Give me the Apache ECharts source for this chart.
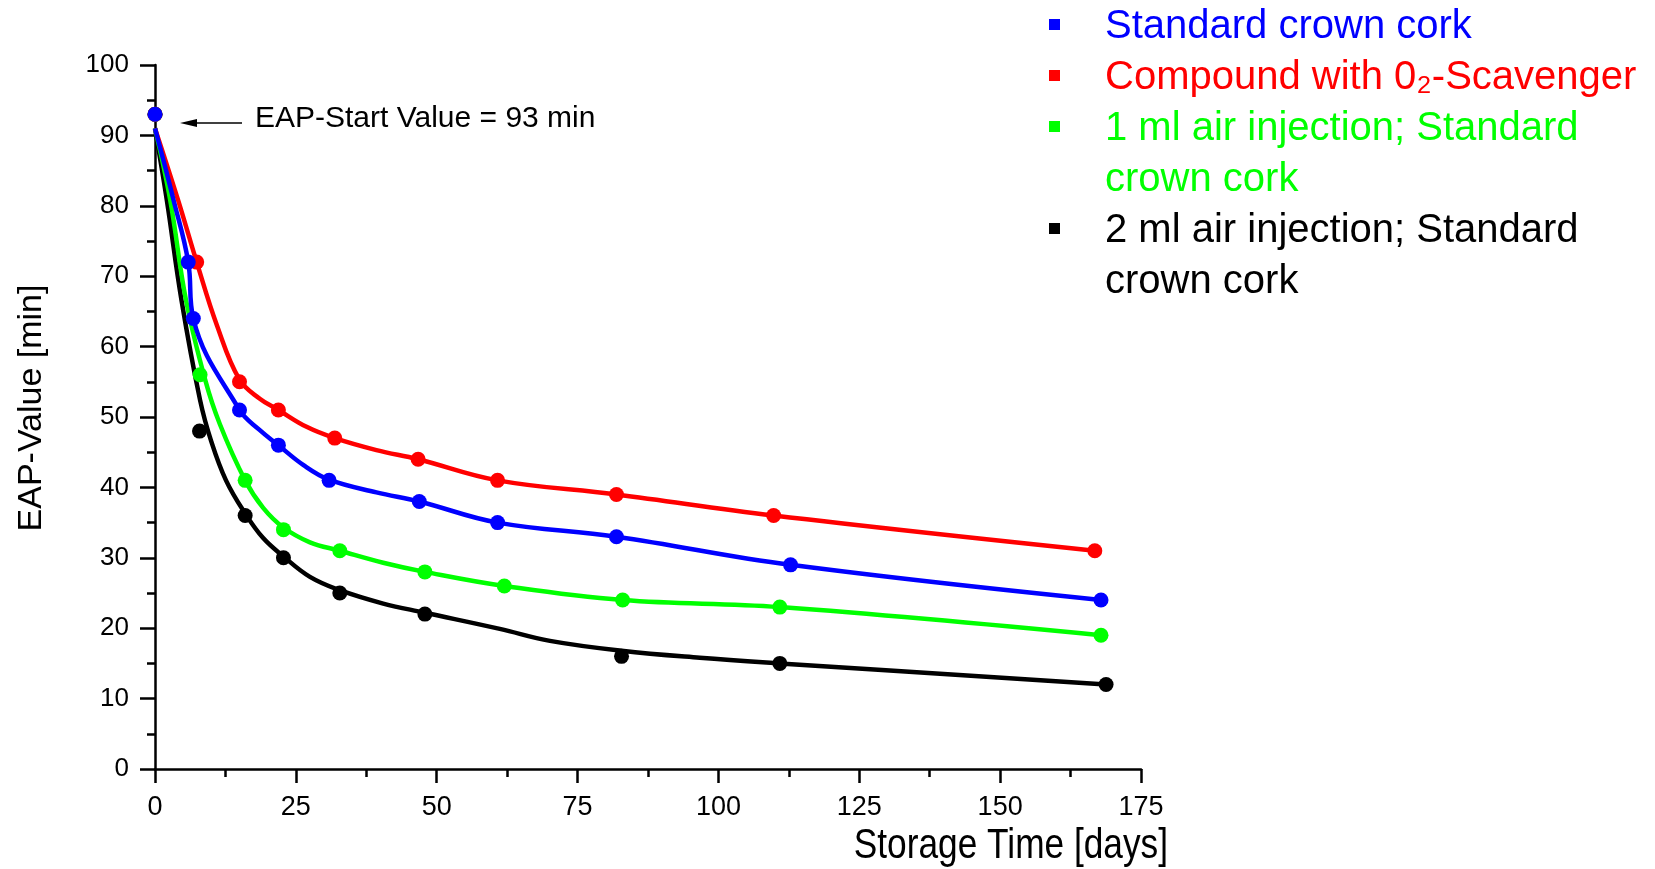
<!DOCTYPE html>
<html>
<head>
<meta charset="utf-8">
<script src="https://cdn.jsdelivr.net/npm/echarts@6/dist/echarts.min.js"></script>
<style>
  html, body { margin: 0; padding: 0; background: #ffffff; }
  #chart { width: 1655px; height: 869px; }
</style>
</head>
<body>
<div id="chart"></div>
<script>
// Axis ticks
const xTickValues = [0, 25, 50, 75, 100, 125, 150, 175];
const yTickValues = [0, 10, 20, 30, 40, 50, 60, 70, 80, 90, 100];

// EAP start value (min), shared by all four closures at day 0
const startValue = 93;

// Series labels and colours
const seriesNames = [
  'Standard crown cork',
  'Compound with 0\u2082-Scavenger',
  '1 ml air injection; Standard\ncrown cork',
  '2 ml air injection; Standard\ncrown cork'
];
const seriesColors = ['#0000ff', '#ff0000', '#00ff00', '#000000'];

// Measured EAP values: [storage time in days, EAP value in min]
const standardPoints = [[0, startValue], [5.9, 72], [6.8, 64], [15, 51], [21.9, 46], [30.9, 41], [46.9, 38], [60.8, 35], [81.9, 33], [112.8, 29], [167.9, 24]];
const scavengerPoints = [[0, startValue], [7.4, 72], [15, 55], [21.9, 51], [31.9, 47], [46.7, 44], [60.8, 41], [81.9, 39], [109.8, 36], [166.8, 31]];
const air1Points = [[0, startValue], [8, 56], [16, 41], [22.8, 34], [32.8, 31], [47.9, 28], [62, 26], [83, 24], [110.9, 23], [167.9, 19]];
const air2Points = [[0, startValue], [7.9, 48], [16, 36], [22.8, 30], [32.8, 25], [47.9, 22], [82.8, 16], [110.9, 15], [168.8, 12]];

// Fitted decay curves: [storage time in days, EAP value in min]
const standardCurve = [[0, 91], [3.3, 80.8], [5.9, 72], [6.8, 64], [15, 51], [18.5, 48.2], [21.9, 46], [26.3, 43.2], [30.9, 41.1], [39.3, 39.3], [46.9, 38], [60.8, 35], [81.9, 33], [112.8, 29], [167.9, 24]];
const scavengerCurve = [[0, 91], [4.1, 80.8], [7.4, 72], [11, 63], [15, 55.3], [18.6, 52.6], [21.9, 51], [26.9, 48.6], [31.9, 47], [39.3, 45.3], [46.7, 44], [60.8, 41], [81.9, 39], [109.8, 36], [166.8, 31]];
const air1Curve = [[0, 91], [2.7, 80.8], [5.5, 66.6], [8.9, 55.3], [11.5, 49], [16, 41], [19.2, 37.1], [22.8, 34.3], [27.5, 32.2], [32.8, 31], [40.5, 29.3], [47.9, 28], [62, 26], [83, 24], [110.9, 23], [167.9, 19]];
const air2Curve = [[0, 91], [2.1, 80.8], [4.7, 66.6], [8, 52.4], [10, 46.5], [12.6, 41], [16, 36.3], [19.2, 32.8], [22.8, 30.2], [27.5, 27.3], [32.8, 25.4], [40.5, 23.5], [47.9, 22.2], [61.2, 19.9], [70.1, 18.2], [82.8, 16.8], [96.7, 15.8], [110.9, 15], [168.8, 12]];

const pointSets = [standardPoints, scavengerPoints, air1Points, air2Points];
const curveSets = [standardCurve, scavengerCurve, air1Curve, air2Curve];

const FONT = "'Liberation Sans', Arial, Helvetica, sans-serif";

const chart = echarts.init(document.getElementById('chart'), null, { renderer: 'canvas' });

// Draw order: black, green, red, blue (blue on top)
const drawOrder = [3, 2, 1, 0];
const series = [];
drawOrder.forEach(function (i) {
  series.push({
    name: seriesNames[i] + ' fit',
    type: 'line',
    data: curveSets[i],
    smooth: 0.4,
    showSymbol: false,
    symbol: 'none',
    silent: true,
    lineStyle: { color: seriesColors[i], width: 4.5 },
    z: 2
  });
  series.push({
    name: seriesNames[i],
    type: 'scatter',
    data: pointSets[i],
    symbol: 'circle',
    symbolSize: 15,
    itemStyle: { color: seriesColors[i], opacity: 1 },
    z: 3
  });
});

// Legend built from text blocks: square marker beside the first line of each entry
const legendLineHeight = 51;
const legendTop = 1.5;
const legendGraphics = [];
let lineIndex = 0;
seriesNames.forEach(function (name, i) {
  const rowTop = legendTop + lineIndex * legendLineHeight;
  legendGraphics.push({
    type: 'rect',
    shape: { x: 1049, y: rowTop + legendLineHeight / 2 - 8, width: 11, height: 11 },
    style: { fill: seriesColors[i] },
    silent: true
  });
  legendGraphics.push({
    type: 'text',
    x: 1105,
    y: rowTop,
    style: {
      text: name,
      fill: seriesColors[i],
      font: '40px ' + FONT,
      lineHeight: legendLineHeight,
      align: 'left',
      verticalAlign: 'top'
    },
    silent: true
  });
  lineIndex += name.split('\n').length;
});

const option = {
  backgroundColor: '#ffffff',
  animation: false,
  grid: {
    left: 155, right: 514, top: 65, bottom: 100,
    containLabel: false,
    outerBoundsMode: 'none'
  },
  xAxis: {
    type: 'value',
    min: xTickValues[0],
    max: xTickValues[xTickValues.length - 1],
    interval: xTickValues[1] - xTickValues[0],
    axisLine: { show: true, onZero: false, lineStyle: { color: '#000', width: 2.5 } },
    axisTick: { show: true, inside: false, length: 14, lineStyle: { color: '#000', width: 2.5 } },
    minorTick: { show: true, splitNumber: 2, length: 8, lineStyle: { color: '#000', width: 2.5 } },
    splitLine: { show: false },
    axisLabel: { color: '#000', fontSize: 27, fontFamily: FONT, margin: 25 }
  },
  yAxis: {
    type: 'value',
    min: yTickValues[0],
    max: yTickValues[yTickValues.length - 1],
    interval: yTickValues[1] - yTickValues[0],
    axisLine: { show: true, onZero: false, lineStyle: { color: '#000', width: 2.5 } },
    axisTick: { show: true, inside: false, length: 15, lineStyle: { color: '#000', width: 2.5 } },
    minorTick: { show: true, splitNumber: 2, length: 8, lineStyle: { color: '#000', width: 2.5 } },
    splitLine: { show: false },
    axisLabel: { color: '#000', fontSize: 26, fontFamily: FONT, margin: 26 }
  },
  series: series,
  graphic: [
    // y-axis title
    {
      type: 'text',
      x: 32, y: 408,
      rotation: Math.PI / 2,
      style: { text: 'EAP-Value [min]', font: '34px ' + FONT, fill: '#000', align: 'center', verticalAlign: 'middle' },
      silent: true
    },
    // x-axis title (narrow face)
    {
      type: 'text',
      x: 1168, y: 846,
      scaleX: 0.82,
      style: { text: 'Storage Time [days]', font: '43px ' + FONT, fill: '#000', align: 'right', verticalAlign: 'middle' },
      silent: true
    },
    // start value annotation with arrow
    {
      type: 'line',
      shape: { x1: 194, y1: 123, x2: 242, y2: 123 },
      style: { stroke: '#000', lineWidth: 1.6 },
      silent: true
    },
    {
      type: 'polygon',
      shape: { points: [[180, 123], [197, 119], [197, 127]] },
      style: { fill: '#000' },
      silent: true
    },
    {
      type: 'text',
      x: 255, y: 119,
      style: { text: 'EAP-Start Value = ' + startValue + ' min', font: '30px ' + FONT, fill: '#000', align: 'left', verticalAlign: 'middle' },
      silent: true
    }
  ].concat(legendGraphics)
};

chart.setOption(option);
</script>
</body>
</html>
